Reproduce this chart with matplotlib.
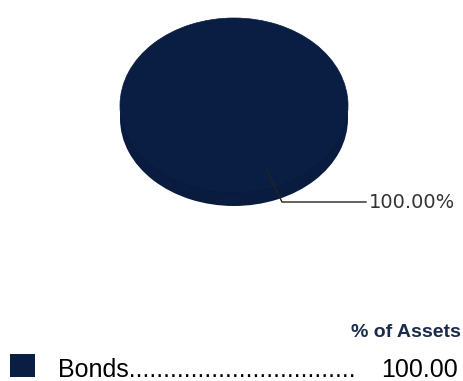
import matplotlib
matplotlib.use("Agg")
import matplotlib.pyplot as plt
from matplotlib.patches import Rectangle

categories = ["Bonds"]
values = [100.00]
pie_labels = ["100.00%"]
legend_title = "% of Assets"
navy = "#0a1e43"
side = "#091b3e"

W, H = 464, 381
fig = plt.figure(figsize=(W / 100, H / 100), dpi=100)
fig.patch.set_facecolor("white")

# pie axes: top face x 120-348, y 18-193; side extends to ~206
left, right, top, bottom = 120, 348, 18, 206
ax = fig.add_axes([left / W, 1 - bottom / H, (right - left) / W, (bottom - top) / H])
ry_px = (193 - 18) / 2
depth = (bottom - 193) / ry_px

# side (depth) of the 3D pie
ax.pie(values, colors=[side], radius=1, center=(0, -depth), startangle=90,
       wedgeprops=dict(linewidth=0), frame=True)
ax.pie(values, colors=[navy], radius=1, center=(0, 0), startangle=90,
       wedgeprops=dict(linewidth=0.5, edgecolor="#081a3a"), frame=True)
ax.set_xlim(-1, 1)
ax.set_ylim(-1 - depth, 1)
ax.set_aspect("auto")
ax.axis("off")

# leader line
cx, cy = 234, 105.5
def to_data(px, py):
    return (px - cx) / 114, (cy - py) / ry_px
p1 = to_data(266.5, 170)
p2 = to_data(282, 202)
p3 = to_data(366, 202)
ax.plot([p1[0], p2[0], p3[0]], [p1[1], p2[1], p3[1]], color="#222222", lw=1.0, clip_on=False)
ax.text(to_data(369, 202)[0], to_data(369, 202)[1], pie_labels[0], ha="left", va="center",
        fontsize=14, color="#333333", family="DejaVu Sans", clip_on=False)

# legend
fig.text(461 / W, 1 - 337 / H, legend_title, ha="right", va="baseline",
         fontsize=14, fontweight="bold", color="#1a2b4c", family="Liberation Sans")
for i, (cat, val) in enumerate(zip(categories, values)):
    y_base = 377 + i * 28
    fig.patches.append(Rectangle((10 / W, 1 - 377 / H), 25 / W, 23 / H,
                                 transform=fig.transFigure, facecolor=navy, edgecolor="none"))
    fig.text(58 / W, 1 - y_base / H, cat + "." * 33, ha="left", va="baseline",
             fontsize=18, color="#000000", family="Liberation Sans")
    fig.text(458 / W, 1 - y_base / H, f"{val:.2f}", ha="right", va="baseline",
             fontsize=18, color="#000000", family="Liberation Sans")

fig.savefig("out.png", dpi=100, facecolor="white")
